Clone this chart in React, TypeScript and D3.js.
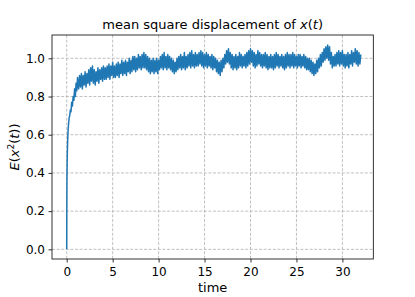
import React, { useEffect, useRef } from "react";
import * as d3 from "d3";

// initial steep rise, read point by point
const riseTimes = [0, 0.01, 0.025, 0.05, 0.08, 0.12, 0.16, 0.21, 0.27, 0.33, 0.4, 0.47, 0.54, 0.62, 0.7, 0.78, 0.86, 0.94, 1.02, 1.1, 1.18];
const riseValues = [0, 0.2, 0.36, 0.46, 0.53, 0.59, 0.63, 0.66, 0.69, 0.7, 0.73, 0.72, 0.77, 0.75, 0.8, 0.78, 0.84, 0.8, 0.87, 0.83, 0.9];

// noisy plateau, sampled every 0.1 time units from t = 1.3
const bandStart = 1.3;
const bandStep = 0.1;
const bandValues = [
  0.84, 0.91, 0.85, 0.92, 0.84, 0.91, 0.86, 0.93, 0.85, 0.92,
  0.87, 0.94, 0.86, 0.95, 0.88, 0.96, 0.87, 0.94, 0.86, 0.93,
  0.88, 0.95, 0.87, 0.94, 0.89, 0.95, 0.88, 0.96, 0.89, 0.95,
  0.89, 0.96, 0.9, 0.97, 0.89, 0.96, 0.91, 0.98, 0.9, 0.96,
  0.9, 0.97, 0.91, 0.98, 0.9, 0.97, 0.92, 0.99, 0.91, 0.98,
  0.92, 0.99, 0.91, 0.98, 0.93, 1.0, 0.92, 0.99, 0.93, 1.01,
  0.94, 1.01, 0.93, 1.0, 0.94, 1.02, 0.95, 1.01, 0.94, 1.02,
  0.95, 1.03, 0.95, 1.02, 0.94, 1.01, 0.93, 1.0, 0.92, 0.99,
  0.93, 1.0, 0.92, 0.99, 0.93, 1.0, 0.92, 0.99, 0.94, 1.01,
  0.95, 1.02, 0.94, 1.03, 0.95, 1.01, 0.94, 1.02, 0.95, 1.01,
  0.94, 1.0, 0.93, 0.99, 0.92, 0.98, 0.93, 1.0, 0.94, 1.01,
  0.95, 1.02, 0.94, 1.01, 0.95, 1.03, 0.94, 1.01, 0.95, 1.02,
  0.96, 1.03, 0.95, 1.04, 0.96, 1.02, 0.95, 1.03, 0.96, 1.02,
  0.96, 1.03, 0.97, 1.04, 0.96, 1.03, 0.95, 1.02, 0.96, 1.03,
  0.95, 1.02, 0.96, 1.01, 0.95, 1.02, 0.94, 1.01, 0.95, 1.0,
  0.93, 0.99, 0.92, 0.98, 0.91, 0.99, 0.93, 1.0, 0.95, 1.02,
  0.97, 1.04, 0.98, 1.05, 0.97, 1.03, 0.95, 1.02, 0.94, 1.01,
  0.95, 1.02, 0.94, 1.01, 0.95, 1.03, 0.96, 1.02, 0.95, 1.01,
  0.96, 1.02, 0.95, 1.03, 0.96, 1.04, 0.97, 1.05, 0.98, 1.04,
  0.96, 1.03, 0.95, 1.02, 0.96, 1.04, 0.97, 1.03, 0.96, 1.02,
  0.95, 1.02, 0.96, 1.03, 0.95, 1.02, 0.94, 1.01, 0.95, 1.02,
  0.95, 1.01, 0.94, 1.02, 0.95, 1.03, 0.96, 1.02, 0.95, 1.01,
  0.96, 1.02, 0.95, 1.01, 0.94, 1.02, 0.95, 1.03, 0.96, 1.02,
  0.95, 1.02, 0.96, 1.03, 0.95, 1.02, 0.96, 1.01, 0.95, 1.02,
  0.96, 1.02, 0.95, 1.01, 0.96, 1.02, 0.95, 1.01, 0.94, 1.0,
  0.94, 1.0, 0.93, 0.99, 0.92, 0.98, 0.91, 0.97, 0.92, 0.99,
  0.93, 1.0, 0.95, 1.02, 0.96, 1.03, 0.98, 1.05, 0.99, 1.06,
  1.0, 1.07, 0.99, 1.06, 0.97, 1.03, 0.95, 1.01, 0.96, 1.02,
  0.96, 1.03, 0.97, 1.04, 0.96, 1.03, 0.97, 1.04, 0.96, 1.02,
  0.95, 1.02, 0.96, 1.03, 0.95, 1.02, 0.97, 1.04, 0.96, 1.03,
  0.98, 1.05, 0.97, 1.04, 0.96, 1.03, 0.97, 1.02,
];

const xTicks = [0, 5, 10, 15, 20, 25, 30];
const yTicks = [0, 0.2, 0.4, 0.6, 0.8, 1.0];

const W = 415;
const H = 297;
const left = 52;
const right = 373.3;
const top = 35;
const bottom = 259;
const font = "DejaVu Sans";

export default function App() {
  const ref = useRef<SVGSVGElement>(null);

  useEffect(() => {
    const svg = d3.select(ref.current);
    svg.selectAll("*").remove();

    const x = d3.scaleLinear().domain([-1.6, 33.36]).range([left, right]);
    const y = d3.scaleLinear().domain([-0.0505, 1.122]).range([bottom, top]);

    const points: [number, number][] = riseTimes
      .map((t, i) => [t, riseValues[i]] as [number, number])
      .concat(bandValues.map((v, i) => [bandStart + i * bandStep, v] as [number, number]));

    // grid
    const grid = svg.append("g");
    grid
      .selectAll(".gx")
      .data(xTicks)
      .join("line")
      .attr("x1", (d) => x(d))
      .attr("x2", (d) => x(d))
      .attr("y1", top)
      .attr("y2", bottom);
    grid
      .selectAll(".gy")
      .data(yTicks)
      .join("line")
      .attr("x1", left)
      .attr("x2", right)
      .attr("y1", (d) => y(d))
      .attr("y2", (d) => y(d));
    grid
      .selectAll("line")
      .attr("stroke", "#b0b0b0")
      .attr("stroke-width", 0.8)
      .attr("stroke-dasharray", "3,1.6");

    // the curve
    const line = d3
      .line<[number, number]>()
      .x((d) => x(d[0]))
      .y((d) => y(d[1]));
    svg
      .append("path")
      .datum(points)
      .attr("d", line)
      .attr("fill", "none")
      .attr("stroke", "#1f77b4")
      .attr("stroke-width", 1.5)
      .attr("stroke-linejoin", "round");

    // axes
    const xAxis = d3
      .axisBottom(x)
      .tickValues(xTicks)
      .tickSize(3.5)
      .tickPadding(4.5)
      .tickFormat(d3.format("d"));
    const yAxis = d3
      .axisLeft(y)
      .tickValues(yTicks)
      .tickSize(3.5)
      .tickPadding(3.5)
      .tickFormat(d3.format(".1f"));

    const gx = svg.append("g").attr("transform", `translate(0,${bottom})`).call(xAxis);
    const gy = svg.append("g").attr("transform", `translate(${left},0)`).call(yAxis);
    [gx, gy].forEach((g) => {
      g.select(".domain").remove();
      g.selectAll("line").attr("stroke", "#000").attr("stroke-width", 0.8);
      g.selectAll("text")
        .attr("fill", "#000")
        .style("font-family", font)
        .style("font-size", "12px");
    });

    // frame
    svg
      .append("rect")
      .attr("x", left)
      .attr("y", top)
      .attr("width", right - left)
      .attr("height", bottom - top)
      .attr("fill", "none")
      .attr("stroke", "#000")
      .attr("stroke-width", 0.8);

    // title
    const title = svg
      .append("text")
      .attr("x", (left + right) / 2)
      .attr("y", 29)
      .attr("text-anchor", "middle")
      .style("font-family", font)
      .style("font-size", "13px");
    title.append("tspan").text("mean square displacement of ");
    title.append("tspan").style("font-style", "italic").text("x");
    title.append("tspan").text("(");
    title.append("tspan").style("font-style", "italic").text("t");
    title.append("tspan").text(")");

    // x label
    svg
      .append("text")
      .attr("x", (left + right) / 2)
      .attr("y", 292)
      .attr("text-anchor", "middle")
      .style("font-family", font)
      .style("font-size", "13px")
      .text("time");

    // y label
    const yl = svg
      .append("text")
      .attr("transform", `translate(19,${(top + bottom) / 2}) rotate(-90)`)
      .attr("text-anchor", "middle")
      .style("font-family", font)
      .style("font-size", "13px");
    yl.append("tspan").style("font-style", "italic").text("E");
    yl.append("tspan").text("(");
    yl.append("tspan").style("font-style", "italic").text("x");
    yl.append("tspan").attr("dy", -5).style("font-size", "9px").text("2");
    yl.append("tspan").attr("dy", 5).text("(");
    yl.append("tspan").style("font-style", "italic").text("t");
    yl.append("tspan").text("))");
  }, []);

  return (
    <svg
      ref={ref}
      width={W}
      height={H}
      style={{ position: "absolute", left: 0, top: 0, background: "#fff" }}
    />
  );
}
